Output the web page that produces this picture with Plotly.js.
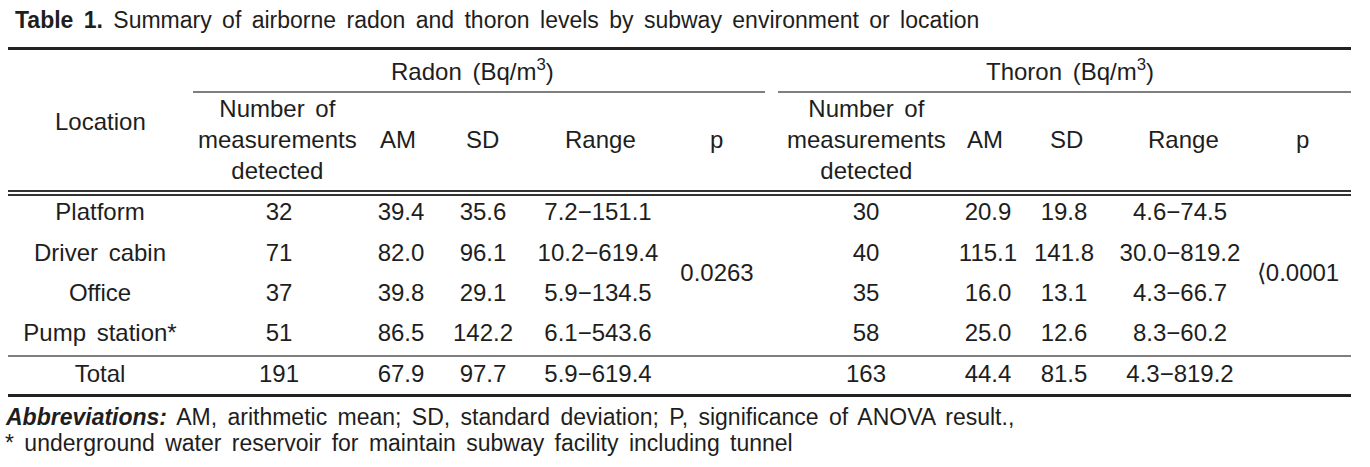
<!DOCTYPE html>
<html>
<head>
<meta charset="utf-8">
<script src="https://cdn.plot.ly/plotly-3.0.1.min.js"></script>
<style>html,body{margin:0;padding:0;background:#fff;}#chart{width:1370px;height:467px;}#chart text{word-spacing:4px;}</style>
</head>
<body>
<div id="chart"></div>
<script>
// ---- data ----
const locations = ['Platform', 'Driver cabin', 'Office', 'Pump station*', 'Total'];
const radonN = [32, 71, 37, 51, 191];
const radonAM = [39.4, 82.0, 39.8, 86.5, 67.9];
const radonSD = [35.6, 96.1, 29.1, 142.2, 97.7];
const radonMin = [7.2, 10.2, 5.9, 6.1, 5.9];
const radonMax = [151.1, 619.4, 134.5, 543.6, 619.4];
const radonP = '0.0263';
const thoronN = [30, 40, 35, 58, 163];
const thoronAM = [20.9, 115.1, 16.0, 25.0, 44.4];
const thoronSD = [19.8, 141.8, 13.1, 12.6, 81.5];
const thoronMin = [4.6, 30.0, 4.3, 8.3, 4.3];
const thoronMax = [74.5, 819.2, 66.7, 60.2, 819.2];
const thoronP = '\u27E80.0001';
const subHeaders = ['Number of<br>measurements<br>detected', 'AM', 'SD', 'Range', 'p'];
const groupHeaders = ['Radon (Bq/m<sup>3</sup>)', 'Thoron (Bq/m<sup>3</sup>)'];
const titleBold = 'Table 1.';
const titleText = 'Summary of airborne radon and thoron levels by subway environment or location';
const noteAbbrLabel = 'Abbreviations:';
const noteAbbr = 'AM, arithmetic mean; SD, standard deviation; P, significance of ANOVA result.,';
const noteStar = '* underground water reservoir for maintain subway facility including tunnel';

// ---- layout geometry ----
const FONT = 'Liberation Sans, Arial, sans-serif';
const FS = 24;
const COL = '#1e1e1e';
const rowY = [214, 255, 295, 335, 376];
const xLoc = 100;
const radonX = {n: 279, am: 401, sd: 483, rng: 598, p: 717};
const thoronX = {n: 866, am: 988, sd: 1064, rng: 1180, p: 1298};
const radonHdrX = {n: 277, am: 398, sd: 482, rng: 600, p: 716};
const thoronHdrX = {n: 866, am: 985, sd: 1066, rng: 1183, p: 1302};

const f1 = v => v.toFixed(1);
function rangeStr(mn, mx) { return mn.map((v, i) => f1(v) + '\u2212' + f1(mx[i])); }

function col(x, ys, texts) {
  return {
    type: 'scatter', mode: 'text', x: ys.map(() => x), y: ys, text: texts,
    textposition: 'middle center', textfont: {family: FONT, size: FS, color: COL},
    hoverinfo: 'skip', showlegend: false, cliponaxis: false
  };
}

const traces = [
  col(xLoc, rowY, locations),
  col(radonX.n, rowY, radonN.map(String)),
  col(radonX.am, rowY, radonAM.map(f1)),
  col(radonX.sd, rowY, radonSD.map(f1)),
  col(radonX.rng, rowY, rangeStr(radonMin, radonMax)),
  col(radonX.p, [275], [radonP]),
  col(thoronX.n, rowY, thoronN.map(String)),
  col(thoronX.am, rowY, thoronAM.map(f1)),
  col(thoronX.sd, rowY, thoronSD.map(f1)),
  col(thoronX.rng, rowY, rangeStr(thoronMin, thoronMax)),
  col(thoronX.p, [275], [thoronP])
];

function ann(x, y, text, opts) {
  return Object.assign({x: x, y: y, xref: 'x', yref: 'y', text: text, showarrow: false,
    xanchor: 'center', yanchor: 'middle', font: {family: FONT, size: FS, color: COL}}, opts || {});
}
const leftFont = {family: FONT, size: 23, color: COL};

const annotations = [
  ann(13, 20, '<b>' + titleBold + '</b> ' + titleText, {xanchor: 'left', align: 'left', font: leftFont}),
  ann(472, 70, groupHeaders[0]),
  ann(1070, 70, groupHeaders[1]),
  ann(xLoc, 121, 'Location'),
  ann(radonHdrX.n, 139, subHeaders[0]),
  ann(radonHdrX.am, 139, subHeaders[1]),
  ann(radonHdrX.sd, 139, subHeaders[2]),
  ann(radonHdrX.rng, 139, subHeaders[3]),
  ann(radonHdrX.p, 139, subHeaders[4]),
  ann(thoronHdrX.n, 139, subHeaders[0]),
  ann(thoronHdrX.am, 139, subHeaders[1]),
  ann(thoronHdrX.sd, 139, subHeaders[2]),
  ann(thoronHdrX.rng, 139, subHeaders[3]),
  ann(thoronHdrX.p, 139, subHeaders[4]),
  ann(3, 417, '<b><i>' + noteAbbrLabel + '</i></b> ' + noteAbbr, {xanchor: 'left', align: 'left', font: leftFont}),
  ann(3, 443, noteStar, {xanchor: 'left', align: 'left', font: leftFont})
];

function hline(x0, x1, y, w, c) {
  return {type: 'line', xref: 'x', yref: 'y', x0: x0, x1: x1, y0: y, y1: y, line: {color: c || '#222', width: w}};
}
const shapes = [
  hline(8, 1351, 48.5, 3),
  hline(193, 765, 92, 1.5, '#555'),
  hline(778, 1351, 92, 1.5, '#555'),
  hline(8, 1351, 191, 2, '#333'),
  hline(8, 1351, 195, 2, '#333'),
  hline(8, 1351, 356, 1.5, '#555'),
  hline(8, 1351, 395.5, 3)
];

const layout = {
  width: 1370, height: 467,
  margin: {l: 0, r: 0, t: 0, b: 0, pad: 0},
  paper_bgcolor: '#fff', plot_bgcolor: '#fff',
  xaxis: {range: [0, 1370], visible: false, fixedrange: true},
  yaxis: {range: [467, 0], visible: false, fixedrange: true},
  annotations: annotations, shapes: shapes, showlegend: false
};
Plotly.newPlot('chart', traces, layout, {displayModeBar: false, staticPlot: true});
</script>
</body>
</html>
